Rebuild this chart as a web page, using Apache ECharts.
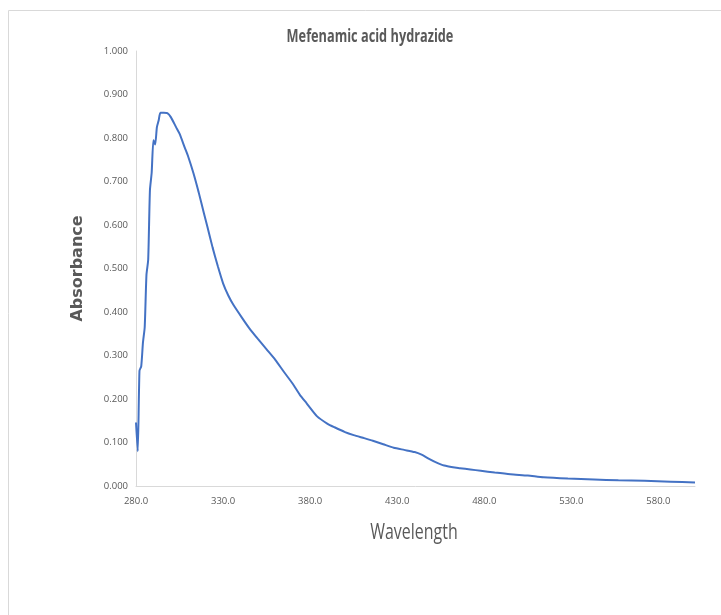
<!DOCTYPE html>
<html>
<head>
<meta charset="utf-8">
<script src="https://cdn.jsdelivr.net/npm/echarts@6/dist/echarts.min.js"></script>
<style>
html,body{margin:0;padding:0;background:#fff;}
#chart{width:721px;height:615px;}
</style>
</head>
<body>
<div id="chart"></div>
<script>
const wavelengths = [280,281,282,283,284,285,286,287,288,289,290,291,292,293,294,296,298,300,303,305,308,310,313,316,319,321,324,327,330,333,336,341,345,350,355,360,365,370,374,378,384,390,394,400,405,411,416,422,428,434,440,444,448,452,457,462,466,472,478,486,495,505,514,528,543,557,572,587,601];
const absorbance = [0.146,0.080,0.265,0.275,0.330,0.365,0.485,0.520,0.680,0.720,0.795,0.785,0.825,0.840,0.858,0.858,0.857,0.848,0.825,0.810,0.778,0.757,0.719,0.675,0.627,0.596,0.548,0.505,0.466,0.438,0.416,0.386,0.363,0.338,0.314,0.290,0.262,0.235,0.210,0.190,0.160,0.143,0.135,0.124,0.117,0.110,0.104,0.096,0.088,0.083,0.078,0.072,0.063,0.055,0.047,0.043,0.041,0.038,0.035,0.031,0.027,0.024,0.020,0.017,0.015,0.013,0.012,0.010,0.008];
const xTicks = {min:280, max:601, step:50};
const yTicks = {min:0, max:1, step:0.1};
const titleText = 'Mefenamic acid hydrazide';
const xName = 'Wavelength';
const yName = 'Absorbance';

const chart = echarts.init(document.getElementById('chart'));
const lab = "'Open Sans',sans-serif";
chart.setOption({
  animation:false,
  graphic:[
    {type:'rect',shape:{x:8.5,y:10.5,width:730,height:620},style:{fill:'none',stroke:'#d9d9d9',lineWidth:1},silent:true},
    {type:'text',x:370,y:37,scaleX:0.75,style:{text:titleText,textAlign:'center',textVerticalAlign:'middle',
      font:"bold 17px 'Open Sans',sans-serif",fill:'#595959'}},
    {type:'text',x:414,y:533,scaleX:0.76,style:{text:xName,textAlign:'center',textVerticalAlign:'middle',
      font:"21px 'Open Sans',sans-serif",fill:'#595959'}}
  ],
  grid:{left:136,top:51,right:26,bottom:129},
  xAxis:{type:'value',min:xTicks.min,max:xTicks.max,interval:xTicks.step,
    axisLine:{lineStyle:{color:'#d9d9d9',width:1}},axisTick:{show:false},splitLine:{show:false},
    axisLabel:{showMaxLabel:false,color:'#595959',fontFamily:lab,fontSize:9.5,margin:10,formatter:v=>v.toFixed(1)}},
  yAxis:{type:'value',min:yTicks.min,max:yTicks.max,interval:yTicks.step,
    name:yName,nameLocation:'middle',nameGap:50,
    nameTextStyle:{fontFamily:"'DejaVu Sans',sans-serif",fontSize:16,fontWeight:'bold',color:'#595959'},
    axisLine:{show:true,lineStyle:{color:'#d9d9d9',width:1}},axisTick:{show:false},splitLine:{show:false},
    axisLabel:{color:'#595959',fontFamily:lab,fontSize:9.5,margin:8,formatter:v=>v.toFixed(3)}},
  series:[{type:'line',data:wavelengths.map((w,i)=>[w,absorbance[i]]),showSymbol:false,smooth:0.2,
    lineStyle:{color:'#4472C4',width:2},itemStyle:{color:'#4472C4'}}]
});
</script>
</body>
</html>
